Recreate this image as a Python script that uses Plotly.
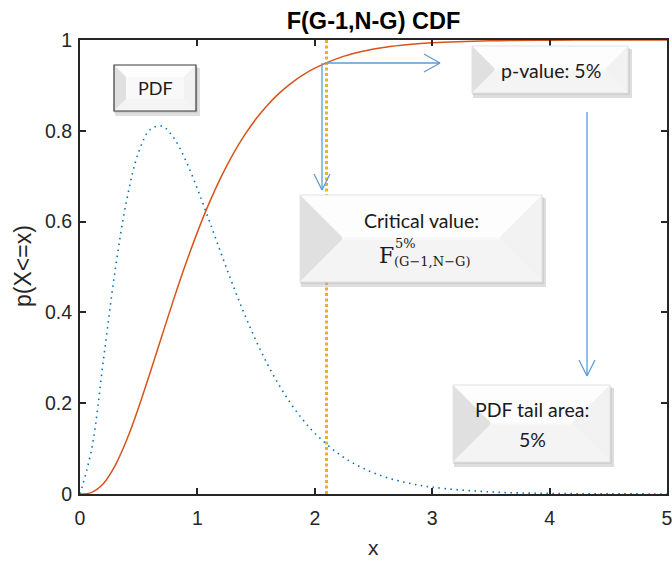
import plotly.graph_objects as go

# values
x_vals = [0, 0.1, 0.2, 0.3, 0.4, 0.5, 0.6, 0.7, 0.8, 0.9, 1.0, 1.1, 1.2, 1.3, 1.4,
          1.5, 1.6, 1.7, 1.8, 1.9, 2.0, 2.2, 2.4, 2.6, 2.8, 3.0, 3.5, 4.0, 4.5, 5.0]
cdf_vals = [0, 0.0036, 0.0231, 0.0629, 0.1205, 0.1912, 0.2694, 0.3504, 0.4303, 0.5064,
            0.5768, 0.6406, 0.6973, 0.7469, 0.7898, 0.8264, 0.8575, 0.8835, 0.9052,
            0.9232, 0.9380, 0.9600, 0.9745, 0.9839, 0.9899, 0.9938, 0.9982, 0.9995,
            0.9999, 1.0]
pdf_vals = [0, 0.1000, 0.2964, 0.4940, 0.6506, 0.7531, 0.8034, 0.8100, 0.7838, 0.7349,
            0.6721, 0.6025, 0.5312, 0.4618, 0.3968, 0.3374, 0.2844, 0.2379, 0.1976,
            0.1631, 0.1339, 0.0889, 0.0581, 0.0374, 0.0238, 0.0150, 0.0045, 0.0013,
            0.0004, 0.0001]
critical_x = 2.1

x_ticks = [0, 1, 2, 3, 4, 5]
y_ticks = [0, 0.2, 0.4, 0.6, 0.8, 1]
y_tick_text = ["0", "0.2", "0.4", "0.6", "0.8", "1"]

W, H = 672, 561
# plot area in pixels (used only to place the decorations)
L, R, T, B = 80, 667, 40, 494
SX = (R - L) / 5.0
SY = (B - T) / 1.0


def X(px):
    return (px - L) / SX


def Y(py):
    return (B - py) / SY


fig = go.Figure()

fig.add_trace(go.Scatter(
    x=x_vals, y=pdf_vals, mode="lines", line_shape="spline",
    line=dict(color="#0072BD", width=1.6, dash="1.5px,4.5px"), showlegend=False,
))
fig.add_trace(go.Scatter(
    x=x_vals, y=cdf_vals, mode="lines", line_shape="spline",
    line=dict(color="#D95319", width=1.5), showlegend=False,
))
fig.add_trace(go.Scatter(
    x=[critical_x, critical_x], y=[0, 1], mode="lines",
    line=dict(color="#EDB120", width=3, dash="3px,2.5px"), showlegend=False,
))

shapes = []
ARROW = "#5B9BD5"


def line(x0, y0, x1, y1, color=ARROW, width=1.3):
    shapes.append(dict(type="line", xref="x", yref="y", x0=x0, y0=y0, x1=x1, y1=y1,
                       line=dict(color=color, width=width), layer="above"))


def arrow(px0, py0, px1, py1):
    line(X(px0), Y(py0), X(px1), Y(py1))
    if py0 == py1:
        line(X(px1), Y(py1), X(px1 - 16), Y(py1 - 9))
        line(X(px1), Y(py1), X(px1 - 16), Y(py1 + 9))
    else:
        line(X(px1), Y(py1), X(px1 - 8), Y(py1 - 16))
        line(X(px1), Y(py1), X(px1 + 8), Y(py1 - 16))


def path(pts, fill, opacity=1.0, lc=None, lw=1):
    d = "M " + " L ".join(f"{X(a):.4f},{Y(b):.4f}" for a, b in pts) + " Z"
    shapes.append(dict(type="path", xref="x", yref="y", path=d, fillcolor=fill,
                       opacity=opacity, layer="above",
                       line=dict(width=lw if lc else 0, color=lc or "rgba(0,0,0,0)")))


def bevel_box(x0, y0, x1, y1, bw=16, border=None):
    # soft shadow
    path([(x0 + 1, y0 + 3), (x1 + 4, y0 + 3), (x1 + 4, y1 + 5), (x0 + 1, y1 + 5)],
         "#a0a0a0", 0.35)
    path([(x0, y0 + 2), (x1 + 2, y0 + 2), (x1 + 2, y1 + 2), (x0, y1 + 2)],
         "#b8b8b8", 0.4)
    path([(x0, y0), (x1, y0), (x1, y1), (x0, y1)], "#f6f6f6")
    h = y1 - y0
    b = min(bw, h / 2 - 1)
    # bevel faces
    path([(x0, y0), (x1, y0), (x1 - b, y0 + b), (x0 + b, y0 + b)], "#fdfdfd")
    path([(x0, y0), (x0 + b, y0 + b), (x0 + b, y1 - b), (x0, y1)], "#e0e0e0")
    path([(x1, y0), (x1, y1), (x1 - b, y1 - b), (x1 - b, y0 + b)], "#f2f2f2")
    path([(x0, y1), (x0 + b, y1 - b), (x1 - b, y1 - b), (x1, y1)], "#f4f4f4")
    path([(x0 + b, y0 + b), (x1 - b, y0 + b), (x1 - b, y1 - b), (x0 + b, y1 - b)],
         "#f9f9f9")
    path([(x0, y0), (x1, y0), (x1, y1), (x0, y1)], "rgba(0,0,0,0)", 1.0,
         border or "#e2e2e2", 1.2 if border else 1)


arrow(325, 63, 440, 63)
arrow(322, 63, 322, 190)
arrow(587, 112, 587, 376)

bevel_box(114, 65, 196, 111, bw=12, border="#3a3a3a")
bevel_box(472, 46, 628, 93, bw=23)
bevel_box(300, 195, 542, 282, bw=42)
bevel_box(453, 385, 610, 462, bw=38)

TXT = "#1a1a1a"
BOX_FONT = dict(family="Lato, Open Sans, sans-serif", size=19.5, color=TXT)
MATH_FONT = "DejaVu Serif, Liberation Serif, serif"


def label(px, py, text, font, anchor="center", angle=0):
    return dict(x=X(px), y=Y(py), xref="x", yref="y", text=text, showarrow=False,
                font=font, xanchor=anchor, yanchor="middle", textangle=angle)


def page_label(px, py, text, font, angle=0):
    # paper coordinates of a pixel position on the page
    return dict(x=(px - L) / (R - L), y=(B - py) / (B - T), xref="paper", yref="paper",
                text=text, showarrow=False, font=font, xanchor="center",
                yanchor="middle", textangle=angle, borderpad=0)


AX = "#262626"
AX_FONT = "Liberation Sans, Arial, sans-serif"

annotations = [
    label(155, 88, "PDF", dict(family="Lato, sans-serif", size=18, color=TXT)),
    label(551, 70, "p-value: 5%", BOX_FONT),
    label(421, 220, "Critical value:", BOX_FONT),
    label(386, 255, "F", dict(family=MATH_FONT, size=22, color=TXT)),
    label(393, 243, "5%", dict(family=MATH_FONT, size=13, color=TXT), "left"),
    label(392, 261, "(G−1,N−G)", dict(family=MATH_FONT, size=13, color=TXT), "left"),
    label(532, 409, "PDF tail area:", BOX_FONT),
    label(532, 439, "5%", BOX_FONT),
    page_label(373, 547, "x", dict(family=AX_FONT, size=21, color=AX)),
    page_label(23, 266, "p(X<=x)", dict(family=AX_FONT, size=23, color=AX), -90),
]

fig.update_layout(
    width=W, height=H,
    margin=dict(l=L, r=W - R, t=T, b=H - B, autoexpand=False),
    plot_bgcolor="white", paper_bgcolor="white",
    font=dict(family=AX_FONT, color=AX, size=18),
    title=dict(text="<b>F(G-1,N-G) CDF</b>", x=(L + R) / 2 / W, xanchor="center",
               y=1 - 21 / H, yanchor="middle",
               font=dict(family=AX_FONT, size=23.5, color="#000000")),
    shapes=shapes,
    annotations=annotations,
    xaxis=dict(range=[0, 5], tickvals=x_ticks, ticks="inside", ticklen=6, tickwidth=1.5,
               tickcolor=AX, showline=True, linewidth=2, linecolor=AX, mirror="ticks",
               showgrid=False, zeroline=False, tickfont=dict(size=19.5),
               ticklabelstandoff=6, ticklabeloverflow="allow", automargin=False),
    yaxis=dict(range=[0, 1], tickvals=y_ticks, ticktext=y_tick_text,
               ticks="inside", ticklen=6, tickwidth=1.5,
               tickcolor=AX, showline=True, linewidth=2, linecolor=AX, mirror="ticks",
               showgrid=False, zeroline=False, tickfont=dict(size=19.5),
               ticklabelstandoff=2, automargin=False),
)

fig.write_html("out.html", config={"displayModeBar": False},
               post_script="document.body.style.margin='0';")
